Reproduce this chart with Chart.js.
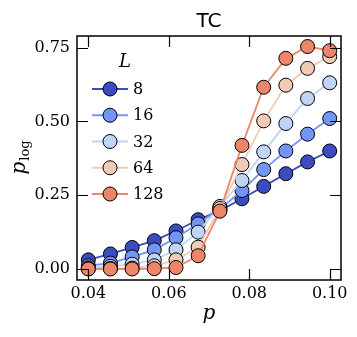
<!DOCTYPE html>
<html>
<head>
<meta charset="utf-8">
<script src="https://cdn.jsdelivr.net/npm/chart.js@4.4.0/dist/chart.umd.min.js"></script>
<style>
  html, body { margin: 0; padding: 0; background: #fff; }
  #chart { display: block; }
</style>
</head>
<body>
<canvas id="chart" width="357" height="337"></canvas>
<script>
// data
var pValues = [0.04, 0.0455, 0.0509, 0.0564, 0.0618, 0.0673, 0.0727, 0.0782, 0.0836, 0.0891, 0.0945, 0.1];
var sizeLabels = ["8", "16", "32", "64", "128"];
var pLog8   = [0.031, 0.051, 0.073, 0.096, 0.129, 0.167, 0.198, 0.238, 0.280, 0.323, 0.363, 0.400];
var pLog16  = [0.011, 0.020, 0.041, 0.065, 0.106, 0.153, 0.203, 0.266, 0.337, 0.400, 0.457, 0.510];
var pLog32  = [0.004, 0.009, 0.016, 0.031, 0.065, 0.125, 0.212, 0.300, 0.397, 0.493, 0.578, 0.631];
var pLog64  = [0.001, 0.002, 0.003, 0.011, 0.031, 0.074, 0.205, 0.354, 0.502, 0.623, 0.680, 0.720];
var pLog128 = [0.000, 0.000, 0.000, 0.001, 0.005, 0.045, 0.196, 0.419, 0.616, 0.714, 0.754, 0.740];
var xTicks = [0.04, 0.06, 0.08, 0.10];
var yTicks = [0.00, 0.25, 0.50, 0.75];

var colors = ["#3b4cc0", "#7396f5", "#c0d4f5", "#f2cbb7", "#ee8468"];
var allSeries = [pLog8, pLog16, pLog32, pLog64, pLog128];

var SERIF = "'DejaVu Serif', serif";
var SANS = "'DejaVu Sans', sans-serif";

var datasets = [];
for (var i = 0; i < allSeries.length; i++) {
  var pts = [];
  for (var j = 0; j < pValues.length; j++) {
    pts.push({x: pValues[j], y: allSeries[i][j]});
  }
  datasets.push({
    label: sizeLabels[i],
    data: pts,
    showLine: true,
    borderColor: colors[i],
    backgroundColor: colors[i],
    borderWidth: 1.8,
    pointRadius: 7,
    pointHoverRadius: 7,
    pointBackgroundColor: colors[i],
    pointBorderColor: "#000",
    pointBorderWidth: 1,
    tension: 0,
    order: allSeries.length - 1 - i,
    clip: false
  });
}

// frame, inward ticks on all sides, legend, axis labels, title
var decorPlugin = {
  id: "decor",
  afterDraw: function(chart) {
    var ctx = chart.ctx;
    var a = chart.chartArea;
    var xs = chart.scales.x, ys = chart.scales.y;
    var tl = 11;
    ctx.save();
    ctx.strokeStyle = "#000";
    ctx.lineWidth = 1.2;
    ctx.beginPath();
    xTicks.forEach(function(v) {
      var px = Math.round(xs.getPixelForValue(v)) + 0.5;
      ctx.moveTo(px, a.bottom); ctx.lineTo(px, a.bottom - tl);
      ctx.moveTo(px, a.top); ctx.lineTo(px, a.top + tl);
    });
    yTicks.forEach(function(v) {
      var py = Math.round(ys.getPixelForValue(v)) + 0.5;
      ctx.moveTo(a.left, py); ctx.lineTo(a.left + tl, py);
      ctx.moveTo(a.right, py); ctx.lineTo(a.right - tl, py);
    });
    ctx.stroke();
    ctx.lineWidth = 1.5;
    ctx.strokeRect(a.left, a.top, a.right - a.left, a.bottom - a.top);

    // legend
    ctx.fillStyle = "#000";
    ctx.font = "italic 18px " + SERIF;
    ctx.textAlign = "center";
    ctx.textBaseline = "middle";
    ctx.fillText("L", 125, 62);
    ctx.font = "16px " + SERIF;
    ctx.textAlign = "left";
    for (var k = 0; k < chart.data.datasets.length; k++) {
      var ds = chart.data.datasets[k];
      var ry = 89 + k * 26.25;
      ctx.strokeStyle = ds.borderColor;
      ctx.lineWidth = ds.borderWidth;
      ctx.beginPath();
      ctx.moveTo(92, ry); ctx.lineTo(128, ry);
      ctx.stroke();
      ctx.beginPath();
      ctx.arc(110, ry, 7, 0, Math.PI * 2);
      ctx.fillStyle = ds.pointBackgroundColor;
      ctx.fill();
      ctx.strokeStyle = "#000";
      ctx.lineWidth = 1;
      ctx.stroke();
      ctx.fillStyle = "#000";
      ctx.fillText(ds.label, 133, ry + 1);
    }

    // title
    ctx.font = "20px " + SANS;
    ctx.textAlign = "center";
    ctx.textBaseline = "alphabetic";
    ctx.fillText("TC", (a.left + a.right) / 2, 27);

    // x label
    ctx.font = "italic 20px " + SERIF;
    ctx.fillText("p", (a.left + a.right) / 2, 319);

    // y label p_log
    ctx.translate(25, (a.top + a.bottom) / 2);
    ctx.rotate(-Math.PI / 2);
    ctx.font = "italic 20px " + SERIF;
    var w1 = ctx.measureText("p").width;
    ctx.font = "13px " + SERIF;
    var w2 = ctx.measureText("log").width;
    var x0 = -(w1 + w2) / 2;
    ctx.textAlign = "left";
    ctx.font = "italic 20px " + SERIF;
    ctx.fillText("p", x0, 0);
    ctx.font = "13px " + SERIF;
    ctx.fillText("log", x0 + w1 + 1, 4);
    ctx.restore();
  }
};

var chart = new Chart(document.getElementById("chart"), {
  type: "scatter",
  data: { datasets: datasets },
  options: {
    responsive: false,
    animation: false,
    events: [],
    layout: { padding: { left: 0, top: 36, right: 16, bottom: 0 } },
    plugins: {
      legend: { display: false },
      title: { display: false },
      tooltip: { enabled: false }
    },
    scales: {
      x: {
        type: "linear",
        min: 0.03719,
        max: 0.10281,
        afterBuildTicks: function(s) { s.ticks = xTicks.map(function(v) { return {value: v}; }); },
        afterFit: function(s) { s.height = 57; },
        grid: { display: false, drawTicks: false },
        border: { display: false },
        ticks: {
          padding: 4,
          color: "#000",
          font: { family: SERIF, size: 16 },
          maxRotation: 0,
          callback: function(v) { return v.toFixed(2); }
        }
      },
      y: {
        type: "linear",
        min: -0.0373,
        max: 0.7897,
        afterBuildTicks: function(s) { s.ticks = yTicks.map(function(v) { return {value: v}; }); },
        afterFit: function(s) { s.width = 77; },
        grid: { display: false, drawTicks: false },
        border: { display: false },
        ticks: {
          padding: 7,
          color: "#000",
          font: { family: SERIF, size: 16 },
          callback: function(v) { return v.toFixed(2); }
        }
      }
    }
  },
  plugins: [decorPlugin]
});
</script>
</body>
</html>
